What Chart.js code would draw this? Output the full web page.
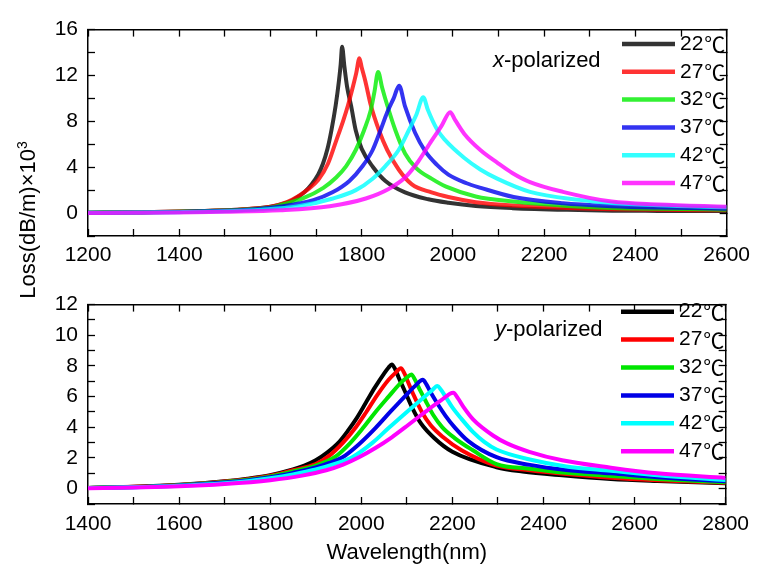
<!DOCTYPE html>
<html>
<head>
<meta charset="utf-8">
<script src="https://cdn.jsdelivr.net/npm/chart.js@4.4.0/dist/chart.umd.min.js"></script>
<style>
  body { margin: 0; background: #fff; }
  #wrap { position: relative; width: 764px; height: 571px; overflow: hidden; }
  #topChart { position: absolute; left: 0; top: 0; }
  #bottomChart { position: absolute; left: 0; top: 275px; }
  #ytitle {
    position: absolute; left: -92px; top: 207px; width: 240px; height: 26px;
    line-height: 26px; text-align: center; color: #000;
    font: 22px "Liberation Sans", Arial, sans-serif;
    transform: rotate(-90deg); transform-origin: 50% 50%;
  }
  #ytitle sup { font-size: 14px; line-height: 0; }
</style>
</head>
<body>
<div id="wrap">
  <canvas id="topChart" width="764" height="275"></canvas>
  <canvas id="bottomChart" width="764" height="296"></canvas>
  <div id="ytitle">Loss(dB/m)×10<sup>3</sup></div>
</div>
<script>
// temperaturas (leyenda)
const temps = ['22℃', '27℃', '32℃', '37℃', '42℃', '47℃'];

// x-polarized: longitud de onda (nm) y pérdida (dB/m x10^3)
const xWl22 = [1200,1300,1400,1500,1550,1600,1625,1645,1660,1675,1690,1705,1715,1725,1734,1743,1750,1754,1757,1762,1768,1777,1787,1800,1825,1852,1895,1946,1990,2050,2130,2250,2350,2450,2600];
const xLoss22 = [0.03,0.07,0.13,0.25,0.36,0.55,0.78,1.05,1.4,1.85,2.5,3.4,4.3,5.6,7.3,9.4,11.5,13.0,14.5,12.8,11.0,9.3,7.2,5.6,4.0,2.8,1.8,1.2,0.9,0.62,0.43,0.28,0.21,0.19,0.17];
const xWl27 = [1200,1300,1400,1500,1550,1600,1636,1660,1680,1705,1726,1744,1759,1770,1780,1788,1795,1800,1808,1820,1838,1856,1881,1910,1953,1990,2050,2133,2250,2348,2450,2600];
const xLoss27 = [0.03,0.07,0.13,0.25,0.36,0.55,0.95,1.45,2.0,2.9,4.3,6.3,8.0,9.4,10.9,12.2,13.5,12.7,11.5,9.4,7.2,5.5,3.8,2.5,1.8,1.4,0.95,0.65,0.45,0.34,0.28,0.24];
const xWl32 = [1200,1300,1400,1500,1550,1600,1622,1672,1716,1744,1766,1787,1805,1820,1828,1836,1845,1856,1874,1895,1920,1953,1985,2050,2133,2250,2348,2450,2600];
const xLoss32 = [0.03,0.06,0.12,0.22,0.32,0.48,0.7,1.3,2.2,3.1,4.1,5.5,7.2,9.0,10.6,12.3,10.9,9.4,7.2,5.2,3.9,3.0,2.3,1.45,1.0,0.62,0.45,0.37,0.3];
const xWl37 = [1200,1300,1400,1500,1560,1622,1694,1737,1773,1802,1824,1841,1856,1870,1882,1895,1917,1939,1965,1990,2030,2061,2133,2241,2348,2450,2600];
const xLoss37 = [0.02,0.05,0.1,0.2,0.32,0.57,1.13,1.83,2.8,4.1,5.5,7.2,8.8,10.0,11.1,9.3,7.0,5.4,4.2,3.35,2.6,2.2,1.4,0.85,0.6,0.48,0.38];
const xWl42 = [1200,1300,1400,1500,1580,1658,1737,1787,1824,1852,1881,1903,1920,1935,1945,1965,1982,2025,2060,2097,2169,2277,2348,2450,2600];
const xLoss42 = [0.02,0.04,0.08,0.16,0.3,0.57,1.27,2.0,3.0,4.1,5.5,7.2,8.6,10.1,9.0,7.3,6.4,4.8,3.8,3.0,1.85,1.15,0.88,0.68,0.5];
const xWl47 = [1200,1300,1400,1500,1622,1730,1809,1859,1895,1924,1953,1975,1994,2005,2025,2060,2097,2130,2169,2241,2348,2450,2600];
const xLoss47 = [0.01,0.03,0.06,0.12,0.25,0.6,1.27,2.1,3.1,4.5,6.3,7.6,8.8,8.1,6.9,5.5,4.4,3.5,2.7,1.85,1.0,0.75,0.55];

// y-polarized
const yWl22 = [1400,1500,1600,1700,1750,1800,1850,1875,1900,1925,1950,1970,1990,2010,2030,2050,2060,2067,2075,2082,2095,2113,2131,2160,2200,2297,2354,2441,2548,2650,2800];
const yLoss22 = [0.05,0.12,0.25,0.48,0.65,0.88,1.25,1.5,1.85,2.35,3.0,3.75,4.6,5.6,6.6,7.5,7.9,8.1,7.75,7.25,6.4,5.2,4.25,3.3,2.4,1.4,1.12,0.87,0.63,0.5,0.36];
const yWl27 = [1400,1500,1600,1700,1750,1800,1850,1900,1930,1960,1988,2010,2035,2060,2075,2087,2095,2102,2115,2133,2152,2180,2220,2297,2370,2450,2548,2650,2800];
const yLoss27 = [0.05,0.12,0.24,0.46,0.62,0.84,1.2,1.6,2.15,3.0,4.0,4.95,6.1,7.1,7.55,7.85,7.5,7.0,6.1,5.0,4.15,3.35,2.5,1.5,1.2,0.95,0.71,0.55,0.38];
const yWl32 = [1400,1500,1600,1700,1750,1800,1850,1900,1944,1975,2005,2030,2060,2085,2100,2110,2118,2126,2140,2158,2178,2205,2245,2297,2370,2450,2548,2650,2800];
const yLoss32 = [0.05,0.11,0.23,0.44,0.58,0.8,1.13,1.5,2.1,2.95,4.0,4.95,6.0,6.85,7.25,7.45,7.1,6.6,5.8,4.8,4.0,3.3,2.5,1.6,1.3,1.03,0.83,0.63,0.42];
const yWl37 = [1400,1500,1600,1700,1750,1800,1850,1900,1930,1959,1995,2031,2065,2100,2120,2135,2143,2152,2166,2185,2205,2235,2297,2370,2450,2548,2650,2800];
const yLoss37 = [0.04,0.1,0.21,0.4,0.54,0.74,1.03,1.38,1.68,2.05,2.9,3.95,5.05,6.15,6.75,7.1,6.8,6.3,5.6,4.75,4.0,3.1,2.05,1.55,1.22,1.0,0.75,0.48];
const yWl42 = [1400,1500,1600,1700,1750,1800,1850,1900,1940,1980,2025,2060,2100,2135,2155,2167,2175,2185,2200,2220,2245,2270,2297,2370,2450,2548,2650,2800];
const yLoss42 = [0.04,0.09,0.19,0.36,0.49,0.68,0.93,1.25,1.6,2.05,3.0,3.95,5.0,5.9,6.4,6.7,6.45,6.0,5.3,4.55,3.7,3.05,2.55,1.9,1.45,1.17,0.88,0.56];
const yWl47 = [1400,1500,1600,1700,1800,1870,1923,1960,1995,2031,2067,2103,2138,2175,2202,2212,2225,2246,2290,2320,2369,2441,2548,2650,2800];
const yLoss47 = [0.03,0.08,0.15,0.3,0.55,0.85,1.2,1.57,2.05,2.65,3.35,4.15,4.95,5.75,6.25,5.9,5.3,4.5,3.45,2.95,2.4,1.85,1.37,1.0,0.7];

const xSeries = [[xWl22, xLoss22], [xWl27, xLoss27], [xWl32, xLoss32], [xWl37, xLoss37], [xWl42, xLoss42], [xWl47, xLoss47]];
const ySeries = [[yWl22, yLoss22], [yWl27, yLoss27], [yWl32, yLoss32], [yWl37, yLoss37], [yWl42, yLoss42], [yWl47, yLoss47]];

const xColors = ['rgba(0,0,0,0.8)', 'rgba(255,0,0,0.8)', 'rgba(0,238,0,0.8)', 'rgba(0,0,238,0.8)', 'rgba(0,255,255,0.8)', 'rgba(255,0,255,0.8)'];
const yColors = ['#000000', '#ff0000', '#00e600', '#0000e6', '#00ffff', '#ff00ff'];

const fontFam = '"Liberation Sans", Arial, sans-serif';
const tickFont = { family: fontFam, size: 21 };

// Leyenda y rótulo dentro del área del gráfico
const legendInPlot = {
    id: 'legendInPlot',
    afterDatasetsDraw(chart, args, opts) {
        const ctx = chart.ctx;
        ctx.save();
        chart.data.datasets.forEach((ds, i) => {
            const y = opts.y + i * opts.dy;
            ctx.strokeStyle = ds.borderColor;
            ctx.lineWidth = 4.5;
            ctx.lineCap = 'butt';
            ctx.beginPath();
            ctx.moveTo(opts.x, y);
            ctx.lineTo(opts.x + 53, y);
            ctx.stroke();
            // número con Liberation, símbolo ℃ ancho completo
            const num = ds.label.slice(0, -1);
            const unit = ds.label.slice(-1);
            ctx.fillStyle = '#000';
            ctx.textBaseline = 'middle';
            ctx.font = '21px ' + fontFam;
            ctx.fillText(num, opts.x + 58, y);
            const nw = ctx.measureText(num).width;
            ctx.font = '21px "Noto Sans CJK JP", "Noto Sans CJK SC", sans-serif';
            const uw = ctx.measureText(unit).width;
            ctx.save();
            ctx.translate(opts.x + 59 + nw, y);
            ctx.scale(uw < 19 ? 20 / uw : 1, 1);
            ctx.fillText(unit, 0, 0);
            ctx.restore();
        });
        ctx.textBaseline = 'alphabetic';
        ctx.fillStyle = '#000';
        ctx.font = 'italic 22px ' + fontFam;
        ctx.fillText(opts.letter, opts.noteX, opts.noteY);
        const w = ctx.measureText(opts.letter).width;
        ctx.font = '22px ' + fontFam;
        ctx.fillText('-polarized', opts.noteX + w, opts.noteY);
        ctx.restore();
    }
};

function makeDatasets(series, colors) {
    return series.map((s, i) => ({
        label: temps[i],
        data: s[0].map((w, k) => ({ x: w, y: s[1][k] })),
        borderColor: colors[i],
        backgroundColor: colors[i],
        borderWidth: 4,
        pointRadius: 0,
        fill: false,
        cubicInterpolationMode: 'monotone',
        order: series.length - i
    }));
}

function makeScales(xMin, xMax, yMin, yMax, yStep, yLabelStep, xAxisH, xPad, xTitle) {
    const tickGrid = { display: true, drawOnChartArea: false, drawTicks: true, tickLength: -7, tickColor: '#000', tickWidth: 1.3 };
    const border = { display: true, color: '#000', width: 1.5 };
    return {
        x: {
            type: 'linear', position: 'bottom', min: xMin, max: xMax,
            ticks: { stepSize: 100, autoSkip: false, maxRotation: 0, padding: xPad, color: '#000', font: tickFont,
                     callback: v => (v % 200 === 0 ? String(v) : '') },
            grid: tickGrid, border: border,
            title: xTitle ? { display: true, text: xTitle, color: '#000', font: { family: fontFam, size: 22 }, padding: { top: 0, bottom: 5 } } : { display: false },
            afterFit: s => { s.height = xAxisH; }
        },
        x2: {
            type: 'linear', position: 'top', min: xMin, max: xMax,
            ticks: { stepSize: 100, autoSkip: false, display: false },
            grid: tickGrid, border: border,
            afterFit: s => { s.height = 0; }
        },
        y: {
            type: 'linear', position: 'left', min: yMin, max: yMax,
            ticks: { stepSize: yStep, autoSkip: false, padding: 17, color: '#000', font: tickFont,
                     callback: v => (v >= 0 && v % yLabelStep === 0 ? String(v) : '') },
            grid: tickGrid, border: border,
            afterFit: s => { s.width = 88; }
        },
        y2: {
            type: 'linear', position: 'right', min: yMin, max: yMax,
            ticks: { stepSize: yStep, autoSkip: false, display: false },
            grid: tickGrid, border: border,
            afterFit: s => { s.width = 0; }
        }
    };
}

new Chart(document.getElementById('topChart'), {
    type: 'line',
    data: { datasets: makeDatasets(xSeries, xColors) },
    options: {
        responsive: false,
        animation: false,
        layout: { padding: { top: 22, right: 27, bottom: 0, left: 0 } },
        scales: makeScales(1200, 2600, -2, 16, 2, 4, 39, 14, null),
        plugins: {
            legend: { display: false },
            tooltip: { enabled: false },
            legendInPlot: { x: 622, y: 44, dy: 27.8, letter: 'x', noteX: 493, noteY: 67 }
        }
    },
    plugins: [legendInPlot]
});

new Chart(document.getElementById('bottomChart'), {
    type: 'line',
    data: { datasets: makeDatasets(ySeries, yColors) },
    options: {
        responsive: false,
        animation: false,
        layout: { padding: { top: 14, right: 27, bottom: 0, left: 0 } },
        scales: makeScales(1400, 2800, -1, 12, 1, 2, 67, 15, 'Wavelength(nm)'),
        plugins: {
            legend: { display: false },
            tooltip: { enabled: false },
            legendInPlot: { x: 621, y: 36.7, dy: 27.9, letter: 'y', noteX: 495, noteY: 61 }
        }
    },
    plugins: [legendInPlot]
});
</script>
</body>
</html>
